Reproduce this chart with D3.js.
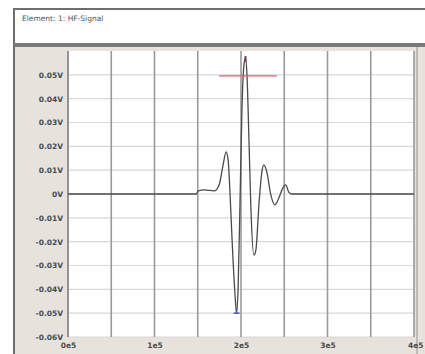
<!DOCTYPE html>
<html><head><meta charset="utf-8">
<script src="https://cdn.jsdelivr.net/npm/d3@7"></script>
<style>html,body{margin:0;padding:0;background:#fff;}svg{display:block;}</style>
</head><body>
<script>
// ---- data ----
const title = "Element: 1: HF-Signal";
const timeValues = [0, 1.483, 1.506, 1.575, 1.69, 1.747, 1.793, 1.828, 1.851, 1.874, 1.897, 1.931, 1.948, 1.966, 1.989, 2.011, 2.034, 2.052, 2.069, 2.092, 2.115, 2.149, 2.172, 2.207, 2.241, 2.264, 2.299, 2.345, 2.391, 2.437, 2.483, 2.517, 2.552, 2.586, 4];
const signalValues = [0, 0, 0.0013, 0.0017, 0.0013, 0.0038, 0.0122, 0.0177, 0.0143, -0.0004, -0.0193, -0.0424, -0.0496, -0.0404, -0.0025, 0.0353, 0.0542, 0.0571, 0.0500, 0.0227, -0.0067, -0.0256, -0.0235, -0.0046, 0.0092, 0.0122, 0.0092, -0.0004, -0.0046, -0.0017, 0.0025, 0.0038, 0.0008, 0, 0];
const yTicks = [0.05, 0.04, 0.03, 0.02, 0.01, 0, -0.01, -0.02, -0.03, -0.04, -0.05, -0.06];
const yTickLabels = ["0.05V", "0.04V", "0.03V", "0.02V", "0.01V", "0V", "-0.01V", "-0.02V", "-0.03V", "-0.04V", "-0.05V", "-0.06V"];
const xGrid = [0, 0.5, 1, 1.5, 2, 2.5, 3, 3.5, 4];
const xTicks = [0, 1, 2, 3, 4];
const xTickLabels = ["0e5", "1e5", "2e5", "3e5", "4e5"];
const markerLevel = [0.0496];
const markerRange = [1.747, 2.414];
const minMarker = [1.948, -0.0496];

// ---- layout ----
const W = 425, H = 354;
const svg = d3.select("body").append("svg").attr("width", W).attr("height", H);
const plot = {l: 68, r: 414, t: 51, b: 337};

// outer frame
svg.append("rect").attr("x", 14).attr("y", 9).attr("width", W - 14 + 5).attr("height", H).attr("fill", "#e7e3dc").attr("stroke", "#6e6e6e").attr("stroke-width", 2);
// header
svg.append("rect").attr("x", 15).attr("y", 10).attr("width", W - 15).attr("height", 33).attr("fill", "#fff");
svg.append("rect").attr("x", 14).attr("y", 43).attr("width", W - 14).attr("height", 4).attr("fill", "#7a7a7a");
svg.append("text").attr("x", 22).attr("y", 21).attr("font-family", "DejaVu Sans, sans-serif").attr("font-size", 7.5).attr("fill", "#555").text(title);

const x = d3.scaleLinear().domain([0, 4]).range([plot.l, plot.r]);
const y = d3.scaleLinear().domain([-0.06, 0.06]).range([plot.b, plot.t]);

// plot background
svg.append("rect").attr("x", plot.l).attr("y", plot.t).attr("width", plot.r - plot.l).attr("height", plot.b - plot.t).attr("fill", "#fff");

// horizontal grid (light)
svg.append("g").selectAll("line").data(yTicks).join("line")
  .attr("x1", plot.l).attr("x2", plot.r).attr("y1", d => y(d)).attr("y2", d => y(d))
  .attr("stroke", "#d8d8d8").attr("stroke-width", 1.2);
// vertical grid
svg.append("g").selectAll("line").data(xGrid).join("line")
  .attr("x1", d => x(d)).attr("x2", d => x(d)).attr("y1", plot.t).attr("y2", plot.b)
  .attr("stroke", "#9a9a9a").attr("stroke-width", 1.6);
// plot border
svg.append("line").attr("x1", plot.l).attr("x2", plot.l).attr("y1", plot.t).attr("y2", plot.b).attr("stroke", "#8a8a8a").attr("stroke-width", 1.5);
svg.append("line").attr("x1", plot.r + 3).attr("x2", plot.r + 3).attr("y1", plot.t - 4).attr("y2", H).attr("stroke", "#b0ada8").attr("stroke-width", 1.5);

// y axis labels
const yAxis = d3.axisLeft(y).tickValues(yTicks).tickSize(0).tickPadding(5)
  .tickFormat((d, i) => yTickLabels[i]);
const ya = svg.append("g").attr("transform", `translate(${plot.l},0)`).call(yAxis);
ya.select(".domain").remove();
ya.selectAll("text").attr("font-family", "DejaVu Sans, sans-serif").attr("font-size", 7.5).attr("font-weight", "bold").attr("fill", "#4a4a4a");

// x axis labels
const xAxis = d3.axisBottom(x).tickValues(xTicks).tickSize(0).tickPadding(6)
  .tickFormat((d, i) => xTickLabels[i]);
const xa = svg.append("g").attr("transform", `translate(0,${plot.b})`).call(xAxis);
xa.select(".domain").remove();
xa.selectAll("text").attr("font-family", "DejaVu Sans, sans-serif").attr("font-size", 7.5).attr("font-weight", "bold").attr("fill", "#4a4a4a");
xa.selectAll(".tick:last-of-type text").attr("text-anchor", "end").attr("dx", 9);

// signal line
const pts = timeValues.map((t, i) => [t, signalValues[i]]);
svg.append("path").datum(pts)
  .attr("d", d3.line().x(d => x(d[0])).y(d => y(d[1])).curve(d3.curveMonotoneX))
  .attr("fill", "none").attr("stroke", "#4a4a4a").attr("stroke-width", 1.3);

// red marker line
svg.append("line").attr("x1", x(markerRange[0])).attr("x2", x(markerRange[1]))
  .attr("y1", y(markerLevel[0])).attr("y2", y(markerLevel[0]))
  .attr("stroke", "#e86060").attr("stroke-width", 1.2);
// peak marker
const pk = d3.maxIndex(signalValues);
svg.append("line").attr("x1", x(timeValues[pk])).attr("x2", x(timeValues[pk]))
  .attr("y1", y(signalValues[pk]) - 2).attr("y2", y(signalValues[pk]) + 4)
  .attr("stroke", "#704060").attr("stroke-width", 2);
// min marker (blue)
svg.append("line").attr("x1", x(minMarker[0]) - 3).attr("x2", x(minMarker[0]) + 3)
  .attr("y1", y(minMarker[1]) + 1).attr("y2", y(minMarker[1]) + 1)
  .attr("stroke", "#5050c0").attr("stroke-width", 1.5);
svg.append("line").attr("x1", x(minMarker[0])).attr("x2", x(minMarker[0]))
  .attr("y1", y(minMarker[1]) - 4).attr("y2", y(minMarker[1]) + 1)
  .attr("stroke", "#5050c0").attr("stroke-width", 1.5);
</script>
</body></html>
